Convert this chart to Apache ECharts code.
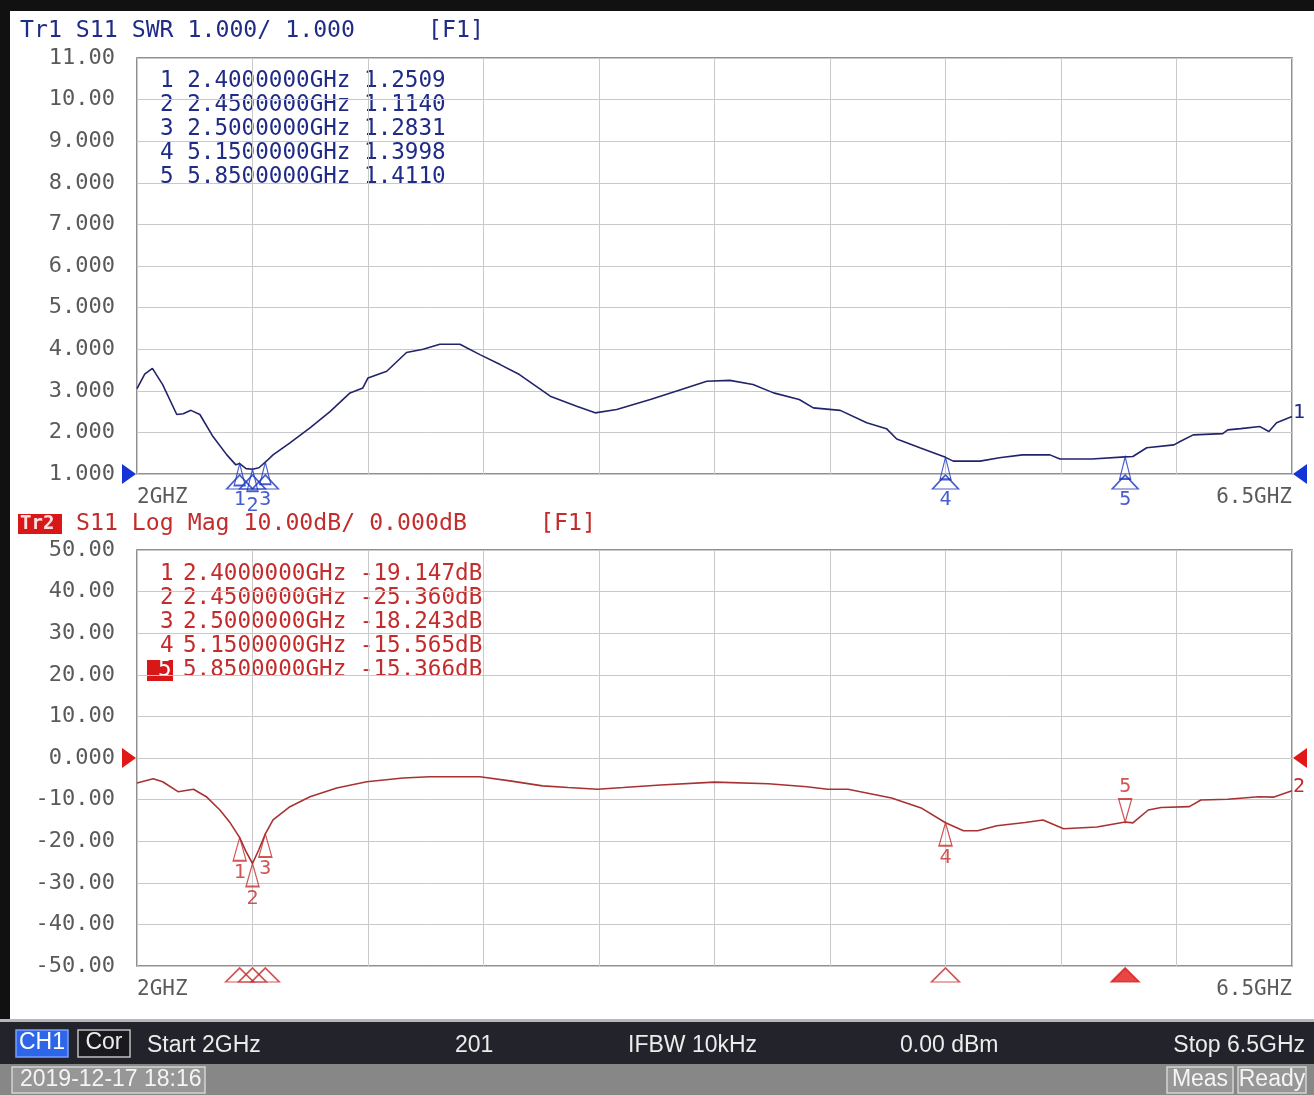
<!DOCTYPE html>
<html>
<head>
<meta charset="utf-8">
<script src="https://cdn.jsdelivr.net/npm/echarts@6/dist/echarts.min.js"></script>
<style>
  html, body { margin: 0; padding: 0; background: #fff; }
  #chart { width: 1314px; height: 1095px; }
</style>
</head>
<body>
<div id="chart"></div>
<script>
// S11 sweep 2 - 6.5 GHz
const swrFreq = [2.00, 2.03, 2.06, 2.10, 2.155, 2.18, 2.21, 2.245, 2.296, 2.35, 2.385, 2.40, 2.425, 2.45, 2.475, 2.50,
  2.53, 2.596, 2.674, 2.752, 2.83, 2.88, 2.90, 2.973, 3.05, 3.115, 3.18, 3.258, 3.336, 3.415, 3.49, 3.61, 3.713,
  3.785, 3.869, 4.00, 4.13, 4.22, 4.31, 4.40, 4.48, 4.58, 4.635, 4.74, 4.843, 4.92, 4.96, 5.05, 5.15, 5.18, 5.285,
  5.36, 5.45, 5.557, 5.596, 5.72, 5.85, 5.88, 5.934, 6.04, 6.064, 6.115, 6.23, 6.25, 6.30, 6.375, 6.41, 6.44, 6.50]
const swrVal = [3.05, 3.40, 3.54, 3.15, 2.43, 2.45, 2.53, 2.43, 1.90, 1.46, 1.22, 1.2509, 1.13, 1.114, 1.15, 1.2831,
  1.46, 1.75, 2.11, 2.50, 2.95, 3.07, 3.31, 3.47, 3.92, 4.00, 4.12, 4.12, 3.87, 3.63, 3.39, 2.87, 2.63,
  2.47, 2.55, 2.79, 3.05, 3.23, 3.25, 3.15, 2.95, 2.79, 2.59, 2.53, 2.23, 2.09, 1.84, 1.63, 1.3998, 1.31, 1.31,
  1.39, 1.46, 1.46, 1.36, 1.36, 1.411, 1.42, 1.63, 1.70, 1.78, 1.94, 1.97, 2.06, 2.09, 2.14, 2.02, 2.23, 2.38]

const dbFreq = [2.00, 2.063, 2.10, 2.16, 2.22, 2.27, 2.323, 2.36, 2.40, 2.425, 2.45, 2.475, 2.50, 2.53, 2.596, 2.674,
  2.778, 2.895, 3.037, 3.14, 3.336, 3.453, 3.58, 3.68, 3.795, 3.894, 4.04, 4.25, 4.46, 4.61, 4.69, 4.77, 4.94,
  5.055, 5.15, 5.22, 5.275, 5.35, 5.46, 5.53, 5.61, 5.74, 5.85, 5.88, 5.94, 5.99, 6.10, 6.145, 6.25, 6.37, 6.43, 6.50]
const dbVal = [-6.0, -5.0, -5.7, -8.1, -7.5, -9.3, -12.5, -15.3, -19.147, -22.5, -25.36, -22.0, -18.243, -14.9, -11.7, -9.3,
  -7.2, -5.7, -4.8, -4.5, -4.5, -5.5, -6.7, -7.1, -7.5, -7.1, -6.5, -5.8, -6.2, -6.9, -7.5, -7.5, -9.6,
  -12.0, -15.565, -17.5, -17.5, -16.3, -15.5, -14.9, -17.0, -16.6, -15.366, -15.6, -12.5, -11.9, -11.7, -10.1, -9.9, -9.3, -9.4, -7.9]

const markerFreq = [2.4, 2.45, 2.5, 5.15, 5.85]
const markerSwr = [1.2509, 1.1140, 1.2831, 1.3998, 1.4110]
const markerDb = [-19.147, -25.360, -18.243, -15.565, -15.366]

const xStart = 2
const xStop = 6.5
const swrAxis = [1, 11, 1]    // min, max, per div
const dbAxis = [-50, 50, 10]

const MONO = '"DejaVu Sans Mono", "Liberation Mono", monospace'
const BLUE = '#1f2b86'
const BLUE_MK = '#1a34c0'
const RED = '#c42c2c'
const RED_TRACE = '#a83232'
const GRID = '#c9c9c9'

const chart = echarts.init(document.getElementById('chart'))

const xAxisBase = (gridIndex) => ({
  type: 'value', gridIndex, min: xStart, max: xStop, interval: (xStop - xStart) / 10,
  axisLine: { show: false }, axisTick: { show: false },
  splitLine: { lineStyle: { color: GRID, width: 1 } },
  axisLabel: {
    margin: 13, color: '#5a5a5a', fontFamily: MONO, fontSize: 21,
    alignMinLabel: 'left', alignMaxLabel: 'right',
    formatter: v => Math.abs(v - xStart) < 1e-6 ? xStart + 'GHZ' : (Math.abs(v - xStop) < 1e-6 ? xStop + 'GHZ' : '')
  }
})

const yAxisBase = (gridIndex, ax, fmt) => ({
  type: 'value', gridIndex, min: ax[0], max: ax[1], interval: ax[2],
  axisLine: { show: false }, axisTick: { show: false },
  splitLine: { lineStyle: { color: GRID, width: 1 } },
  axisLabel: { margin: 22, color: '#5a5a5a', fontFamily: MONO, fontSize: 22, verticalAlign: 'middle', padding: [0, 0, 5, 0], formatter: fmt }
})

const fmtSwr = v => (Math.abs(v) >= 10 ? v.toFixed(2) : v.toFixed(3))
const fmtDb = v => (v === 0 ? '0.000' : v.toFixed(2))

// marker readout lines
const swrLines = markerFreq.map((f, i) => `${i + 1} ${f.toFixed(7)}GHz ${markerSwr[i].toFixed(4)}`)
const dbLines = markerFreq.map((f, i) => `${f.toFixed(7)}GHz ${markerDb[i].toFixed(3)}dB`)

const graphics = []
// frame
graphics.push({ type: 'rect', shape: { x: 0, y: 0, width: 1314, height: 11 }, style: { fill: '#111' }, silent: true })
graphics.push({ type: 'rect', shape: { x: 0, y: 0, width: 10, height: 1024 }, style: { fill: '#111' }, silent: true })
// headers
const txt = (text, x, y, fill, size) => ({
  type: 'text', silent: true,
  style: { text, x, y, fill, font: `${size || 22.6}px ${MONO}`, verticalAlign: 'middle' }
})
graphics.push(txt('Tr1 S11 SWR 1.000/ 1.000', 20, 31, BLUE, 23.2))
graphics.push(txt('[F1]', 428, 31, BLUE, 23.2))
graphics.push({ type: 'rect', shape: { x: 18, y: 514, width: 44, height: 20 }, style: { fill: '#d81818' }, silent: true })
graphics.push({ type: 'text', silent: true, style: { text: 'Tr2', x: 20, y: 524, fill: '#ffe0e0', font: `bold 19px ${MONO}`, verticalAlign: 'middle' } })
graphics.push(txt('S11 Log Mag 10.00dB/ 0.000dB', 76, 524, RED, 23.2))
graphics.push(txt('[F1]', 540, 524, RED, 23.2))
swrLines.forEach((s, i) => graphics.push(txt(s, 160, 81 + i * 24, BLUE)))
dbLines.forEach((s, i) => {
  if (i === 4) {
    graphics.push({ type: 'rect', shape: { x: 147, y: 660, width: 26, height: 21 }, style: { fill: '#d81818' }, silent: true })
    graphics.push(txt(String(i + 1), 158, 670, '#fff'))
  } else {
    graphics.push(txt(String(i + 1), 160, 574 + i * 24, RED))
  }
  graphics.push(txt(s, 183, 574 + i * 24, RED))
})
// status bars
graphics.push({ type: 'rect', shape: { x: 0, y: 1019, width: 1314, height: 3 }, style: { fill: '#b8b8b8' }, silent: true })
graphics.push({ type: 'rect', shape: { x: 0, y: 1022, width: 1314, height: 42 }, style: { fill: '#23232b' }, silent: true })
graphics.push({ type: 'rect', shape: { x: 0, y: 1064, width: 1314, height: 31 }, style: { fill: '#878787' }, silent: true })
const SANS = '"Liberation Sans Narrow", "Liberation Sans", sans-serif'
const sbox = (x, y, w, h, fill, stroke) => ({ type: 'rect', silent: true, shape: { x, y, width: w, height: h }, style: { fill, stroke, lineWidth: 1.5 } })
const stxt = (text, x, y, align, fill) => ({ type: 'text', silent: true, style: { text, x, y, fill: fill || '#ececec', font: `23px ${SANS}`, align: align || 'left', verticalAlign: 'middle' } })
graphics.push(sbox(16, 1030, 52, 27, '#2e66ea', '#7aa0ff'))
graphics.push(stxt('CH1', 42, 1043, 'center', '#fff'))
graphics.push(sbox(78, 1030, 52, 27, '#1a1a1e', '#c0c0c0'))
graphics.push(stxt('Cor', 104, 1043, 'center'))
graphics.push(stxt('Start 2GHz', 147, 1046))
graphics.push(stxt('201', 455, 1046))
graphics.push(stxt('IFBW 10kHz', 628, 1046))
graphics.push(stxt('0.00 dBm', 900, 1046))
graphics.push(stxt('Stop 6.5GHz', 1305, 1046, 'right'))
graphics.push(sbox(12, 1067, 193, 26, '#979797', '#d4d4d4'))
graphics.push(stxt('2019-12-17 18:16', 20, 1080, 'left', '#f4f4f4'))
graphics.push(sbox(1167, 1067, 66, 26, '#979797', '#d4d4d4'))
graphics.push(stxt('Meas', 1200, 1080, 'center', '#f4f4f4'))
graphics.push(sbox(1238, 1067, 68, 26, '#979797', '#d4d4d4'))
graphics.push(stxt('Ready', 1272, 1080, 'center', '#f4f4f4'))

const TRI_RIGHT = 'path://M0,0 L14,8 L0,16 Z'
const TRI_LEFT = 'path://M14,0 L0,8 L14,16 Z'
const TRI_DOWN = 'path://M0,0 L10,0 L5,20 Z'

const refLevel = (x, y, color) => ({
  symbolSize: [14, 20],
  itemStyle: { color },
  label: { show: false },
  data: [
    { coord: [x[0], y], symbol: TRI_RIGHT, symbolOffset: [-8, 0] },
    { coord: [x[1], y], symbol: TRI_LEFT, symbolOffset: [8, 0] }
  ]
})

const mkLabel = (pos, color, extra) => Object.assign({
  show: true, position: pos, distance: 1, color, fontFamily: MONO, fontSize: 20
}, extra || {})

const option = {
  animation: false,
  backgroundColor: '#fff',
  graphic: graphics,
  grid: [
    { left: 137, top: 58, width: 1155, height: 416, show: true, borderColor: '#6c6c6c', borderWidth: 1.5, backgroundColor: 'transparent' },
    { left: 137, top: 550, width: 1155, height: 416, show: true, borderColor: '#6c6c6c', borderWidth: 1.5, backgroundColor: 'transparent' }
  ],
  xAxis: [xAxisBase(0), xAxisBase(1)],
  yAxis: [yAxisBase(0, swrAxis, fmtSwr), yAxisBase(1, dbAxis, fmtDb)],
  series: [
    {
      type: 'line', xAxisIndex: 0, yAxisIndex: 0,
      data: swrFreq.map((f, i) => [f, swrVal[i]]),
      showSymbol: false, lineStyle: { color: '#22246a', width: 1.6 },
      endLabel: { show: true, formatter: '1', color: BLUE, fontFamily: MONO, fontSize: 20, distance: 1, offset: [0, -4] },
      markPoint: refLevel([xStart, xStop], swrAxis[0], '#1434d8')
    },
    {
      type: 'line', xAxisIndex: 1, yAxisIndex: 1,
      data: dbFreq.map((f, i) => [f, dbVal[i]]),
      showSymbol: false, lineStyle: { color: RED_TRACE, width: 1.6 },
      endLabel: { show: true, formatter: '2', color: RED, fontFamily: MONO, fontSize: 20, distance: 1, offset: [0, -4] },
      markPoint: refLevel([xStart, xStop], 0, '#e01818')
    },
    // SWR markers on the trace
    {
      type: 'scatter', xAxisIndex: 0, yAxisIndex: 0, z: 5,
      symbol: 'triangle', symbolSize: [11, 22], symbolOffset: [0, 11],
      itemStyle: { color: 'rgba(255,255,255,0)', borderColor: BLUE_MK, borderWidth: 1.5 },
      data: markerFreq.map((f, i) => [f, markerSwr[i]])
    },
    // SWR stimulus triangles + numbers
    {
      type: 'scatter', xAxisIndex: 0, yAxisIndex: 0, z: 5,
      symbol: 'triangle', symbolSize: [26, 14], symbolOffset: [0, 8],
      itemStyle: { color: 'rgba(255,255,255,0)', borderColor: BLUE_MK, borderWidth: 1.5 },
      label: mkLabel('bottom', BLUE_MK, { distance: 0 }),
      data: markerFreq.map((f, i) => ({
        value: [f, swrAxis[0]],
        label: { formatter: String(i + 1), offset: i === 1 ? [0, 6] : [0, 0] }
      }))
    },
    // dB markers on the trace
    {
      type: 'scatter', xAxisIndex: 1, yAxisIndex: 1, z: 5,
      symbol: 'triangle', symbolSize: [13, 23], symbolOffset: [0, 11.5],
      itemStyle: { color: 'rgba(255,255,255,0)', borderColor: RED, borderWidth: 1.5 },
      label: mkLabel('bottom', RED),
      data: markerFreq.map((f, i) => i === 4 ? {
        value: [f, markerDb[i]], symbol: TRI_DOWN, symbolOffset: [0, -11.5],
        label: { formatter: '5', position: 'top' }
      } : {
        value: [f, markerDb[i]], label: { formatter: String(i + 1) }
      })
    },
    // dB stimulus triangles under the graticule
    {
      type: 'scatter', xAxisIndex: 1, yAxisIndex: 1, z: 5,
      symbol: 'triangle', symbolSize: [28, 14], symbolOffset: [0, 9],
      itemStyle: { color: 'rgba(255,255,255,0)', borderColor: RED, borderWidth: 1.5 },
      data: markerFreq.map((f, i) => i === 4 ? {
        value: [f, dbAxis[0]], itemStyle: { color: '#e01818', borderColor: '#e01818' }
      } : [f, dbAxis[0]])
    }
  ]
}

chart.setOption(option)
</script>
</body>
</html>
